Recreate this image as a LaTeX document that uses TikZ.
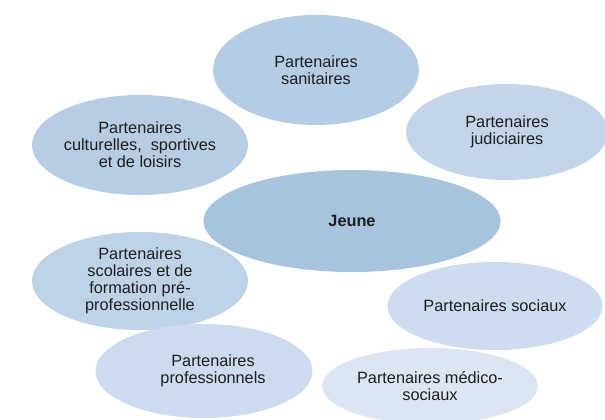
\documentclass[tikz,border=0pt]{standalone}
\usepackage{fontspec}
\setmainfont{Liberation Sans}
\usetikzlibrary{shapes.geometric}
\definecolor{cJeune}{RGB}{167,195,222}
\definecolor{cSan}{RGB}{180,204,228}
\definecolor{cCul}{RGB}{182,205,228}
\definecolor{cJud}{RGB}{196,213,234}
\definecolor{cSco}{RGB}{191,211,232}
\definecolor{cPro}{RGB}{204,219,237}
\definecolor{cSoc}{RGB}{205,220,238}
\definecolor{cMed}{RGB}{220,229,242}
\definecolor{txt}{RGB}{30,30,30}
\tikzset{
  bubble/.style={ellipse, draw=none, inner sep=0pt, align=center, text=txt,
    font=\fontsize{16.3}{17}\selectfont}
}
\begin{document}
\begin{tikzpicture}[x=1pt,y=-1pt]
\useasboundingbox (0,0) rectangle (605,420);
\clip (0,0) rectangle (605,420);
\node[bubble, fill=cSan, minimum width=206, minimum height=110] (san) at (316,70) {Partenaires\\sanitaires};
\node[bubble, fill=cCul, minimum width=216, minimum height=100] (cul) at (140,145) {Partenaires\\culturelles,\ \ sportives\\et de loisirs};
\node[bubble, fill=cJud, minimum width=202, minimum height=96] (jud) at (507,132) {Partenaires\\judiciaires};
\node[bubble, fill=cJeune, minimum width=297, minimum height=102, font=\fontsize{16.3}{17}\selectfont\bfseries] (jeune) at (352,221) {Jeune};
\node[bubble, fill=cSco, minimum width=216, minimum height=98] (sco) at (140,281) {Partenaires\\scolaires et de\\formation pré-\\professionnelle};
\node[bubble, fill=cPro, minimum width=217, minimum height=94] (pro) at (204,371) {\hspace*{18pt}Partenaires\\\hspace*{18pt}professionnels};
\node[bubble, fill=cSoc, minimum width=215, minimum height=88] (soc) at (495,306) {Partenaires sociaux};
\node[bubble, fill=cMed, minimum width=216, minimum height=76] (med) at (430,386) {Partenaires médico-\\sociaux};
\end{tikzpicture}
\end{document}
